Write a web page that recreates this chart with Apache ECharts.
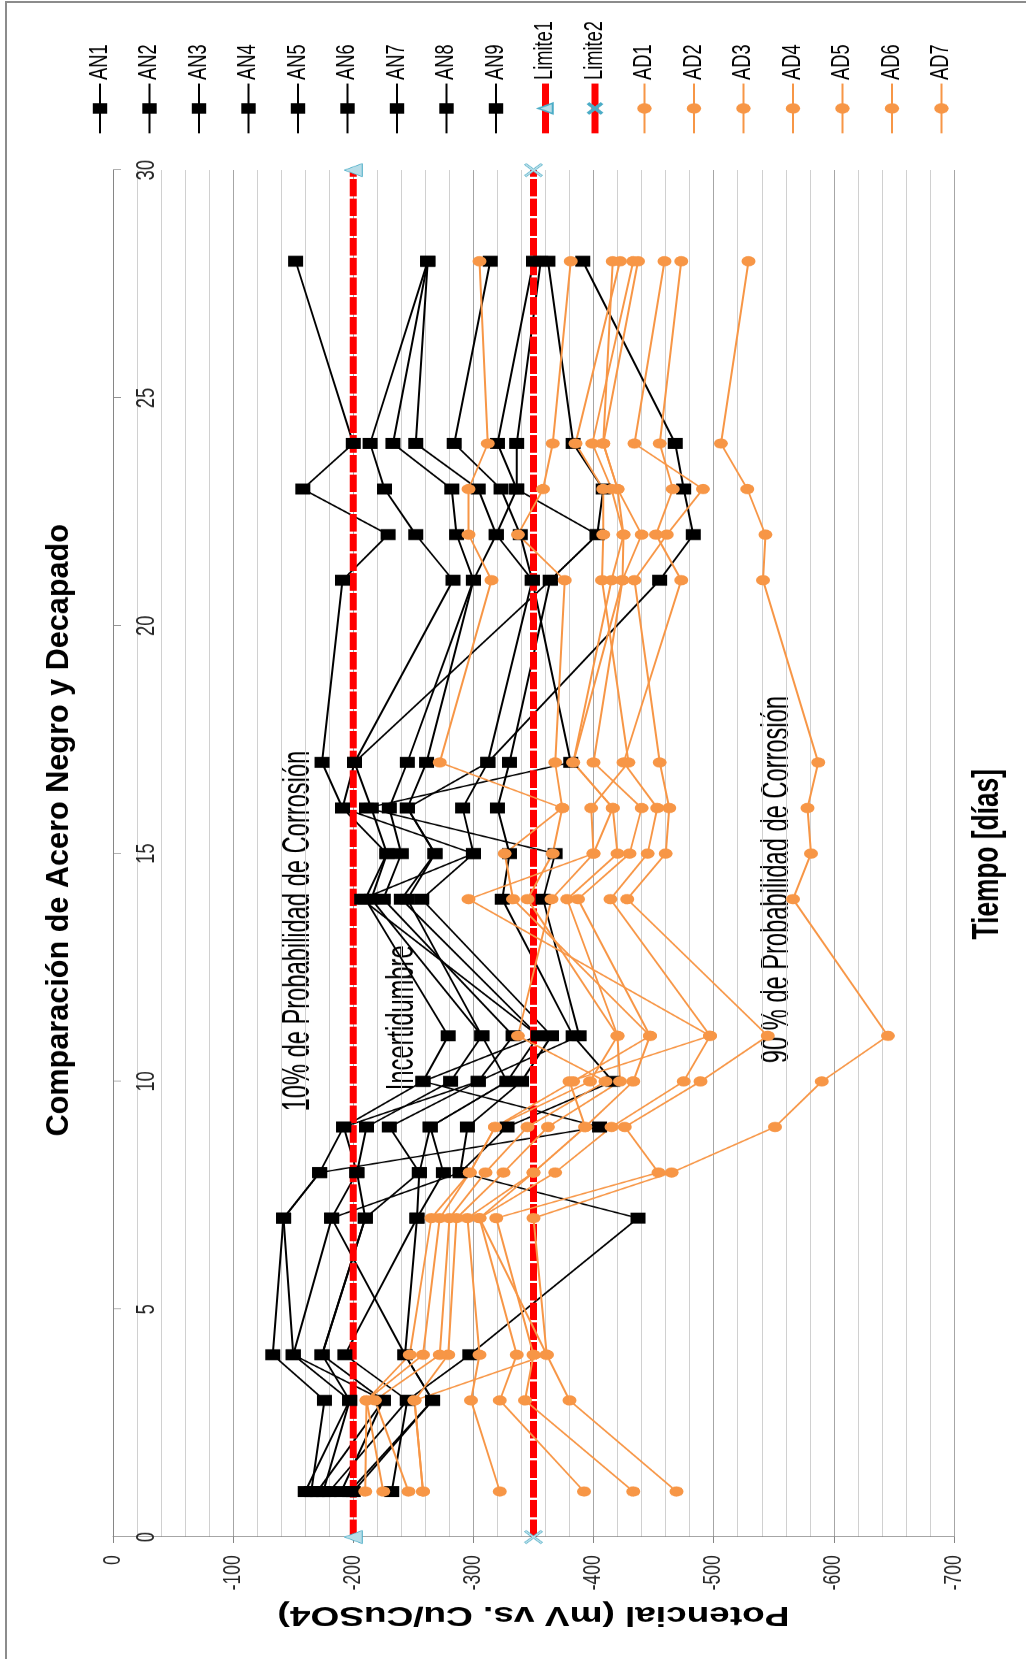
<!DOCTYPE html>
<html>
<head>
<meta charset="utf-8">
<title>Comparación de Acero Negro y Decapado</title>
<script src="https://cdn.jsdelivr.net/npm/echarts@6/dist/echarts.min.js"></script>
<style>
    html, body { margin: 0; padding: 0; background: #fff; overflow: hidden; }
    body { width: 1026px; height: 1659px; position: relative; }
    #frame { position: absolute; left: 5px; top: 1px; width: 1100px; height: 1700px;
             border-left: 2px solid #8c8c8c; border-top: 2px solid #8c8c8c; }
    /* chart is laid out landscape, then squeezed and turned to portrait */
    #chart { position: absolute; left: 0; top: 0; width: 2272px; height: 1026px;
             transform-origin: 0 0; transform: translateY(1659px) rotate(-90deg) scaleX(0.7302); }
</style>
</head>
<body>
<div id="frame"></div>
<div id="chart"></div>
<script>
const DAYS = [1, 3, 4, 7, 8, 9, 10, 11, 14, 15, 16, 17, 21, 22, 23, 24, 28];

// Acero negro (mV vs Cu/CuSO4)
const AN1 = [-165, -176, -133, -142, -172, -192, -258, -279, -210, -228, -191, -174, -191, -229, -158, -200, -152];
const AN2 = [-160, -197, -150, -182, -203, -211, -281, -307, -215, -228, -215, -201, -283, -252, -226, -214, -262];
const AN3 = [-170, -225, -174, -210, -255, -230, -304, -333, -225, -240, -230, -245, -300, -286, -282, -233, -262];
const AN4 = [-180, -245, -193, -253, -275, -264, -328, -354, -240, -268, -245, -261, -300, -319, -304, -252, -262];
const AN5 = [-197, -266, -243, -182, -289, -295, -340, -365, -257, -300, -291, -312, -349, -339, -323, -284, -314];
const AN6 = [-232, -245, -297, -437, -289, -328, -416, -383, -324, -330, -320, -330, -364, -403, -336, -320, -350];
const AN7 = [-175, -197, -174, -210, -203, -192, -304, -388, -358, -368, -211, -381, -349, -319, -336, -336, -356];
const AN8 = [-190, -225, -150, -142, -172, -405, -258, -354, -207, -300, -191, -201, -364, -403, -408, -383, -362];
const AN9 = [-200, -266, -243, -253, -255, -264, -328, -307, -245, -268, -245, -312, -455, -483, -475, -468, -391];

// Acero decapado
const AD1 = [-469, -380, -361, -350, -465, -551, -590, -645, -566, -581, -578, -587, -541, -543, -528, -506, -529];
const AD2 = [-433, -343, -350, -319, -454, -426, -489, -545, -428, -460, -463, -455, -434, -461, -491, -434, -459];
const AD3 = [-392, -322, -336, -305, -368, -415, -475, -497, -414, -445, -453, -425, -473, -452, -466, -455, -473];
const AD4 = [-322, -298, -305, -295, -350, -393, -433, -447, -387, -430, -440, -400, -424, -440, -420, -408, -437];
const AD5 = [-258, -251, -279, -286, -325, -362, -422, -420, -378, -420, -416, -383, -415, -425, -415, -399, -433];
const AD6 = [-246, -218, -272, -280, -310, -345, -410, -337, -365, -400, -398, -429, -407, -408, -408, -385, -422];
const AD7 = [-225, -211, -258, -272, -297, -318, -397, -420, -345, -366, -374, -368, -376, -337, -358, -366, -381];
const AD8 = [-210, -211, -247, -265, -297, -318, -383, -447, -333, -326, -374, -272, -315, -296, -296, -312, -305];
const AD9 = [-258, -251, -361, -305, -350, -393, -380, -497, -296, -400, -416, -383, -424, -425, -420, -408, -416];

const LIMIT_DAYS = [0, 30];
const LIMITE1 = [-200, -200];
const LIMITE2 = [-350, -350];

const AN_SERIES = [['AN1', AN1], ['AN2', AN2], ['AN3', AN3], ['AN4', AN4], ['AN5', AN5],
                   ['AN6', AN6], ['AN7', AN7], ['AN8', AN8], ['AN9', AN9]];
const AD_SERIES = [['AD1', AD1], ['AD2', AD2], ['AD3', AD3], ['AD4', AD4], ['AD5', AD5],
                   ['AD6', AD6], ['AD7', AD7], ['AD8', AD8], ['AD9', AD9]];
const LEGEND_NAMES = ['AN1', 'AN2', 'AN3', 'AN4', 'AN5', 'AN6', 'AN7', 'AN8', 'AN9',
                      'Limite1', 'Limite2', 'AD1', 'AD2', 'AD3', 'AD4', 'AD5', 'AD6', 'AD7'];

const FONT = 'Liberation Sans';
const BLACK = '#000000';
const ORANGE = '#f79646';
const RED = '#ff0000';
const MARK_BLUE = '#b7dde8';
const CROSS = 'path://M0,1L1,0L5,4L9,0L10,1L6,5L10,9L9,10L5,6L1,10L0,9L4,5Z';

function pairs(xs, ys) {
    return xs.map((x, i) => [x, ys[i]]);
}

function dataSeries(name, values, color, symbol, size) {
    return {
        name: name,
        type: 'line',
        data: pairs(DAYS, values),
        symbol: symbol,
        symbolSize: size,
        showAllSymbol: true,
        lineStyle: { color: color, width: 2 },
        itemStyle: { color: color },
        emphasis: { disabled: true }
    };
}

function limitSeries(name, values, symbol) {
    return {
        name: name,
        type: 'line',
        data: pairs(LIMIT_DAYS, values),
        symbol: symbol,
        symbolSize: 18,
        clip: false,
        lineStyle: { color: RED, width: 7, type: [24, 3] },
        itemStyle: { color: MARK_BLUE, borderColor: '#4bacc6', borderWidth: 1 },
        emphasis: { disabled: true }
    };
}

const series = [];
AN_SERIES.forEach(([n, v]) => series.push(dataSeries(n, v, BLACK, 'rect', 15)));
series.push(limitSeries('Limite1', LIMITE1, 'triangle'));
series.push(limitSeries('Limite2', LIMITE2, CROSS));
AD_SERIES.forEach(([n, v]) => series.push(dataSeries(n, v, ORANGE, 'circle', 14)));

const legendData = LEGEND_NAMES.map(n => n.startsWith('Limite')
    ? { name: n, lineStyle: { width: 7, type: 'solid', color: RED } }
    : { name: n });

const chart = echarts.init(document.getElementById('chart'));
chart.setOption({
    animation: false,
    textStyle: { fontFamily: FONT },
    grid: { left: 167, right: 233, top: 113, bottom: 72 },
    legend: {
        data: legendData,
        orient: 'vertical',
        left: 2086,
        top: 87.5,
        padding: 0,
        itemWidth: 68,
        itemHeight: 18,
        itemGap: 24.5,
        selectedMode: false,
        textStyle: { fontSize: 25, color: '#000', fontFamily: FONT }
    },
    xAxis: {
        type: 'value',
        min: 0,
        max: 30,
        interval: 5,
        position: 'top',
        axisLine: { show: true, lineStyle: { color: '#868686' } },
        axisTick: { show: true, inside: true, length: 8, lineStyle: { color: '#868686' } },
        axisLabel: { inside: true, margin: 22, fontSize: 25, color: '#262626', fontFamily: FONT },
        splitLine: { show: false }
    },
    yAxis: {
        type: 'value',
        min: -700,
        max: 0,
        interval: 100,
        name: 'Potencial (mV vs. Cu/CuSO4)',
        nameLocation: 'middle',
        nameRotate: 90,
        nameGap: 88,
        nameTextStyle: { fontSize: 37, fontWeight: 'bold', color: '#000', fontFamily: FONT },
        axisLine: { show: true, lineStyle: { color: '#868686' } },
        axisTick: { show: true, length: 8, lineStyle: { color: '#868686' } },
        axisLabel: { margin: 25, fontSize: 24, color: '#262626', fontFamily: FONT },
        splitLine: { show: true, lineStyle: { color: '#a6a6a6' } },
        minorTick: { show: false, splitNumber: 5 },
        minorSplitLine: { show: true, lineStyle: { color: '#d0d0d0' } }
    },
    graphic: [
        {
            type: 'text', x: 1135, y: 59, scaleX: 1.31,
            style: { text: 'Comparación de Acero Negro y Decapado', font: 'bold 32px "Liberation Sans"',
                     fill: '#000', align: 'center', verticalAlign: 'middle' }
        },
        {
            type: 'text', x: 1102, y: 988,
            style: { text: 'Tiempo [días]', font: 'bold 36px "Liberation Sans"',
                     fill: '#000', align: 'center', verticalAlign: 'middle' }
        },
        {
            type: 'text', x: 750, y: 299, scaleX: 0.853,
            style: { text: '10% de Probabilidad de Corrosión', font: '38px "Liberation Sans"',
                     fill: '#000', align: 'left', verticalAlign: 'middle' }
        },
        {
            type: 'text', x: 779, y: 403, scaleX: 0.853,
            style: { text: 'Incertidumbre', font: '38px "Liberation Sans"',
                     fill: '#000', align: 'left', verticalAlign: 'middle' }
        },
        {
            type: 'text', x: 816, y: 778, scaleX: 0.853,
            style: { text: '90 % de Probabilidad de Corrosión', font: '38px "Liberation Sans"',
                     fill: '#000', align: 'left', verticalAlign: 'middle' }
        }
    ],
    series: series
});
</script>
</body>
</html>
